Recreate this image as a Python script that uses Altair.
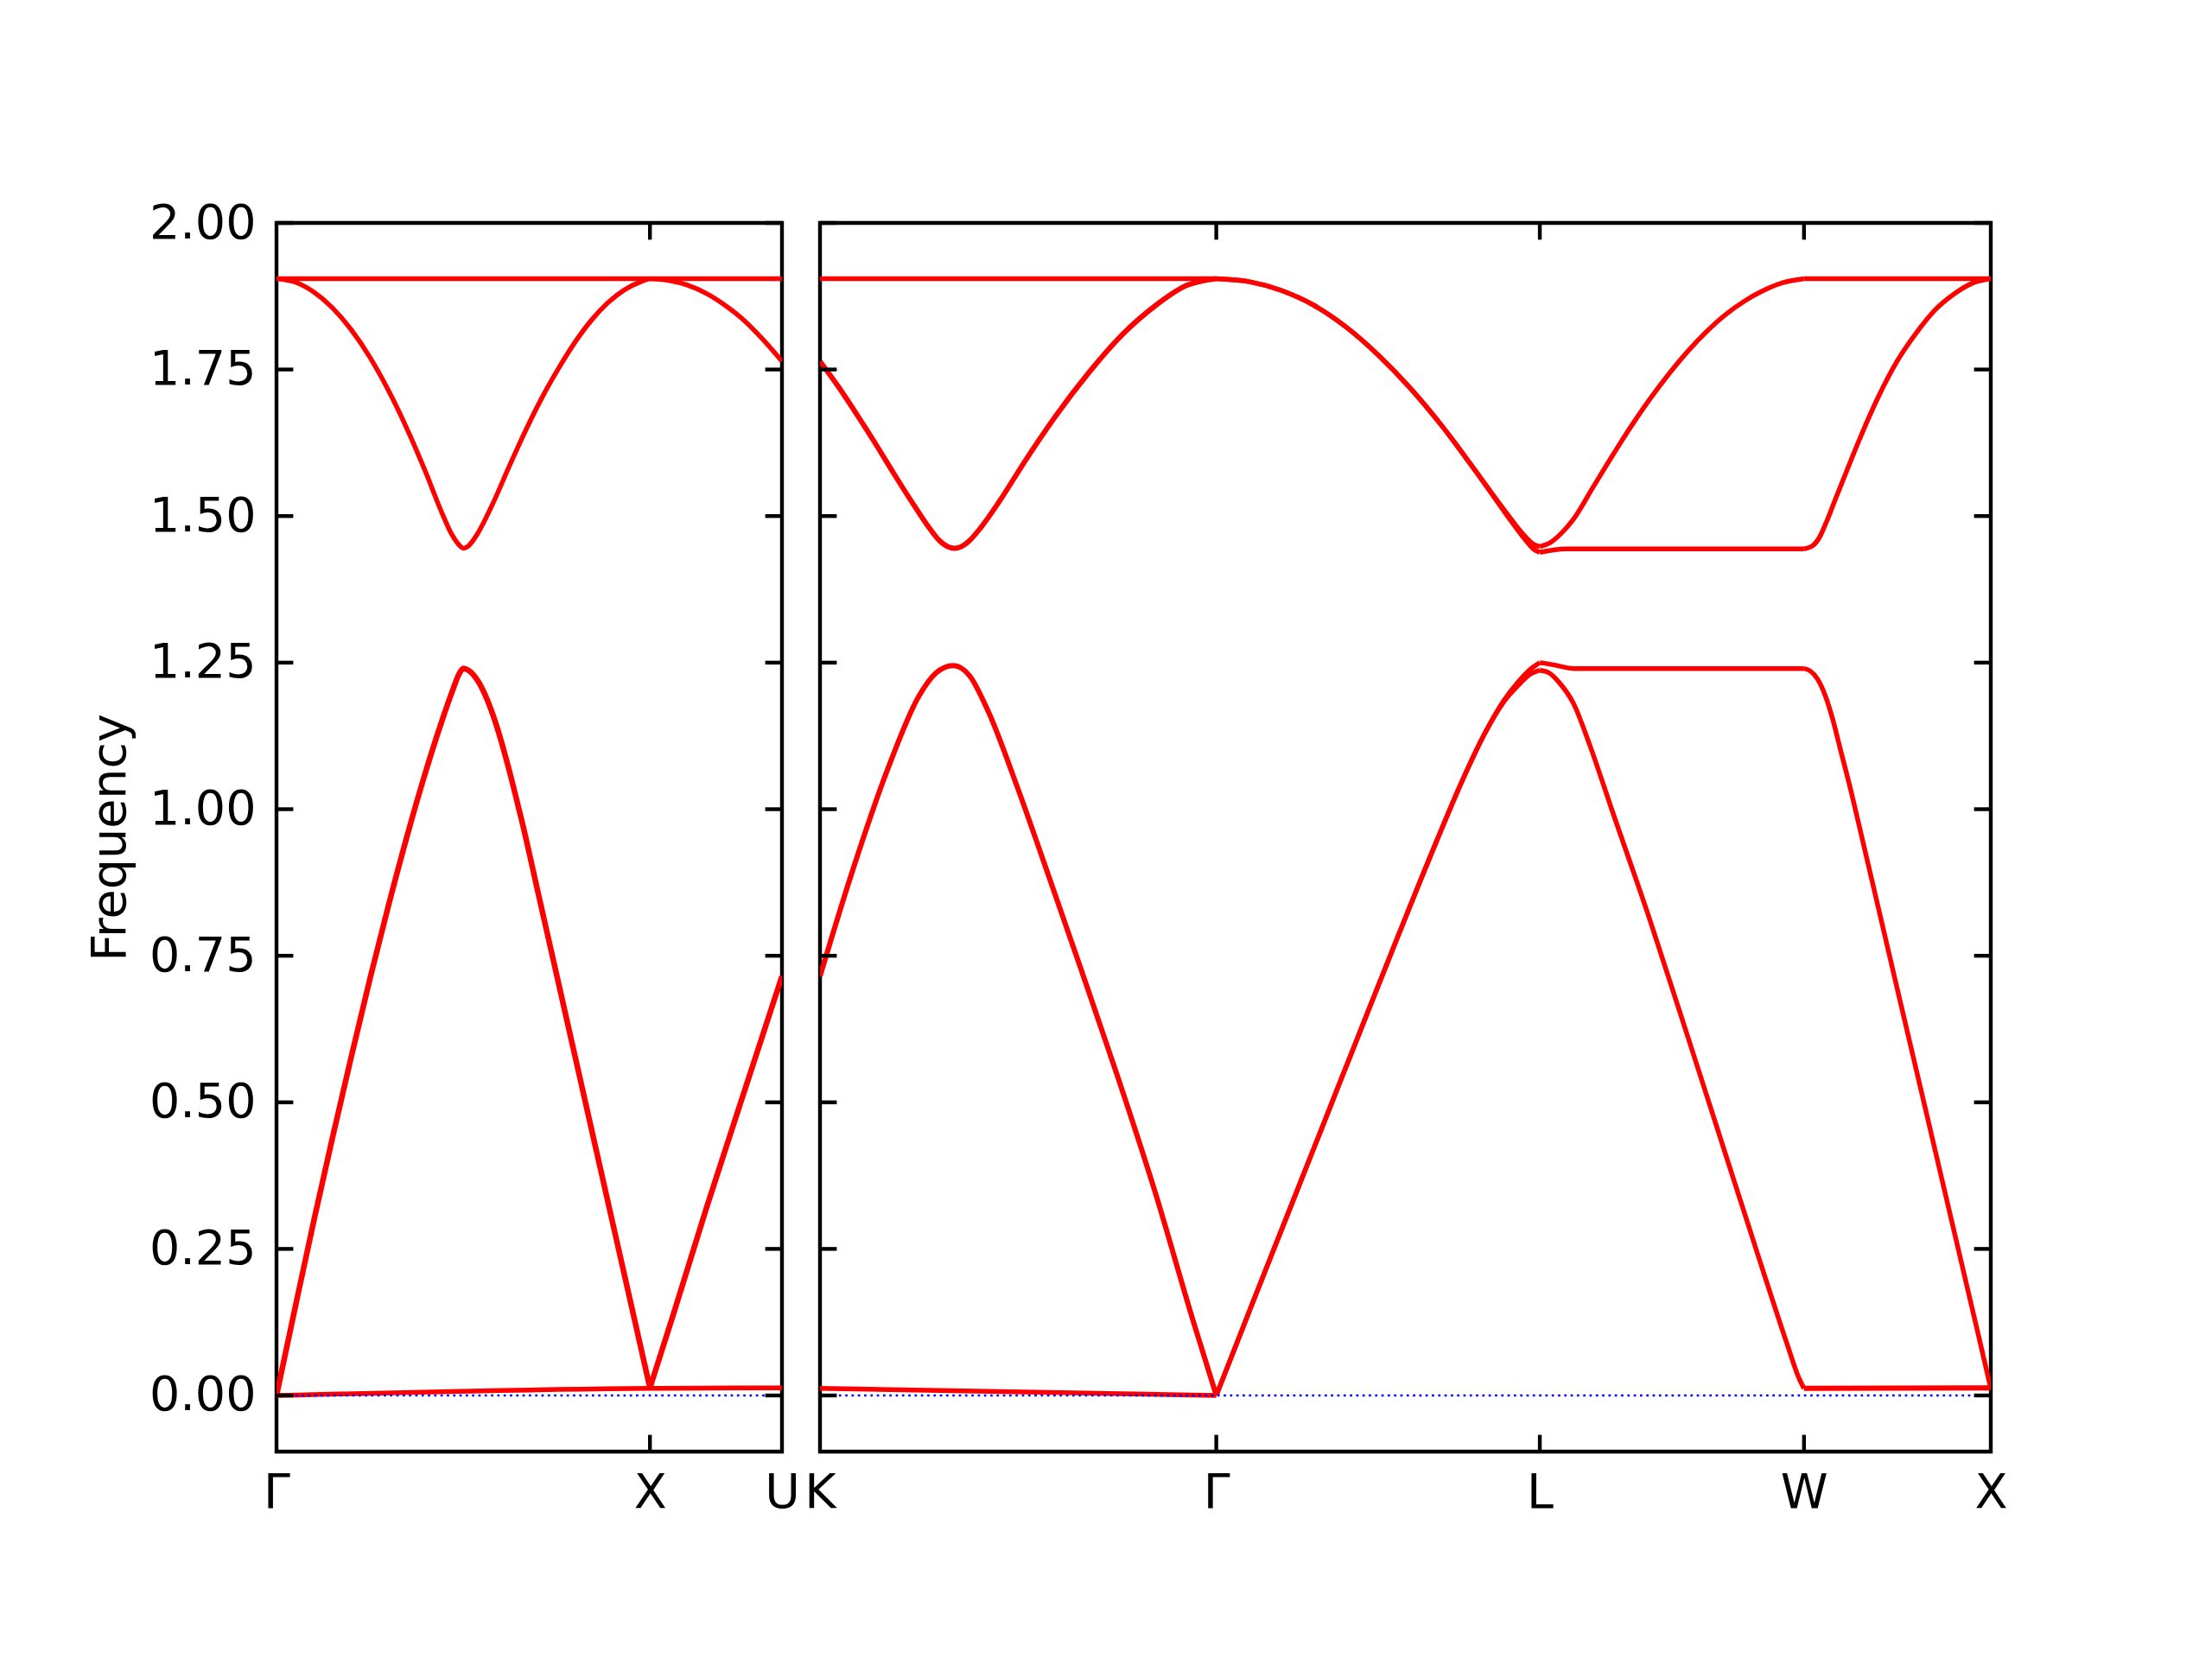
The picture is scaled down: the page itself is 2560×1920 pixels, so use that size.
import altair as alt
import pandas as pd

# ---------------- axis / tick data ----------------
LEFT_TICKS = [0.0, 1.0, 1.3536]
LEFT_LABELS = ["Γ", "X", "U"]
RIGHT_TICKS = [0.0, 1.0607, 1.9267, 2.6338, 3.1338]
RIGHT_LABELS = ["K", "Γ", "L", "W", "X"]
Y_TICKS = [0.0, 0.25, 0.5, 0.75, 1.0, 1.25, 1.5, 1.75, 2.0]
Y_MIN, Y_MAX = -0.0958, 2.0

# ---------------- left panel (Γ - X - U) ----------------
l_flat_q = [0.0, 1.3536]
l_flat_f = [1.905, 1.905]

l_up_gx_q = [0.0, 0.05, 0.1, 0.15, 0.2, 0.25, 0.3, 0.35, 0.4, 0.44, 0.47, 0.49, 0.5,
             0.51, 0.5326, 0.5769, 0.6213, 0.6657, 0.7101, 0.7545, 0.7988, 0.8432, 0.8876, 0.932, 0.9764, 1.0]
l_up_gx_f = [1.905, 1.899, 1.882, 1.855, 1.818, 1.771, 1.714, 1.648, 1.574, 1.51, 1.468, 1.45, 1.445,
             1.447, 1.464, 1.518, 1.582, 1.644, 1.701, 1.751, 1.796, 1.834, 1.864, 1.886, 1.900, 1.905]
l_up_xu_q = [1.0, 1.05, 1.1, 1.15, 1.2, 1.25, 1.3, 1.3536]
l_up_xu_f = [1.905, 1.902, 1.894, 1.880, 1.860, 1.835, 1.803, 1.764]

l_ac_gx_q = [0.0, 0.05, 0.1, 0.15, 0.2, 0.25, 0.3, 0.35, 0.4, 0.44, 0.47, 0.49, 0.5,
             0.52, 0.54, 0.56, 0.58, 0.6, 0.62, 0.64, 0.66, 0.7, 0.75, 0.8, 0.85, 0.9, 0.95, 1.0]
l_ac_gx_f = [0.0, 0.15, 0.298, 0.44, 0.577, 0.71, 0.836, 0.955, 1.065, 1.145, 1.2, 1.232, 1.24,
             1.234, 1.218, 1.193, 1.16, 1.12, 1.074, 1.024, 0.972, 0.859, 0.718, 0.577, 0.436, 0.295, 0.154, 0.013]
l_ac_xu_q = [1.0, 1.0621, 1.151, 1.2396, 1.3536]
l_ac_xu_f = [0.013, 0.137, 0.319, 0.493, 0.715]

l_low_q = [0.0, 1.0, 1.3536]
l_low_f = [0.0, 0.012, 0.013]

# ---------------- right panel (K - Γ - L - W - X) ----------------
r_flat_kg_q = [0.0, 1.0607]
r_flat_kg_f = [1.905, 1.905]
r_flat_wx_q = [2.6338, 3.1338]
r_flat_wx_f = [1.905, 1.905]

r_up_kg_q = [0.0, 0.05, 0.1, 0.15, 0.2, 0.25, 0.29, 0.32, 0.345, 0.36, 0.375, 0.4, 0.43,
             0.48, 0.55, 0.63, 0.72, 0.81, 0.9, 0.98, 1.0607]
r_up_kg_f = [1.764, 1.72, 1.672, 1.622, 1.57, 1.52, 1.482, 1.458, 1.447, 1.445, 1.447, 1.458, 1.48,
             1.525, 1.595, 1.67, 1.745, 1.81, 1.86, 1.893, 1.905]

r_up_gl_q = [1.0607, 1.1473, 1.2339, 1.3205, 1.4071, 1.4937, 1.5803, 1.6669, 1.7535, 1.8401,
             1.8834, 1.9094, 1.9267]
r_up_gl_f1 = [1.905, 1.900, 1.885, 1.860, 1.823, 1.775, 1.718, 1.652, 1.578, 1.503,
              1.468, 1.452, 1.448]
r_up_gl_f2 = [1.905, 1.900, 1.885, 1.860, 1.823, 1.775, 1.718, 1.652, 1.578, 1.500,
              1.463, 1.444, 1.438]

r_up_lw_q = [1.9267, 1.955, 1.9833, 2.0172, 2.0681, 2.119, 2.1699, 2.2208, 2.2717, 2.3227,
             2.3736, 2.4245, 2.4754, 2.5263, 2.5772, 2.6338]
r_up_lw_f = [1.448, 1.455, 1.470, 1.495, 1.548, 1.601, 1.652, 1.699, 1.742, 1.781,
             1.815, 1.844, 1.867, 1.885, 1.898, 1.905]

r_mid_lw_q = [1.9267, 1.9967, 2.6338]
r_mid_lw_f = [1.438, 1.444, 1.444]
r_mid_wx_q = [2.6338, 2.6538, 2.6738, 2.6938, 2.7138, 2.7488, 2.7838, 2.8303, 2.8838, 2.9338,
              2.9838, 3.0338, 3.0838, 3.1338]
r_mid_wx_f = [1.444, 1.448, 1.462, 1.49, 1.522, 1.578, 1.633, 1.700, 1.765, 1.812,
              1.851, 1.878, 1.897, 1.905]

r_ac_kg_q = [0.0, 0.0815, 0.1834, 0.2649, 0.31, 0.3566, 0.40, 0.4482, 0.5297, 0.5909,
             0.6927, 0.7946, 0.8965, 0.9984, 1.0607]
r_ac_kg_f = [0.715, 0.884, 1.072, 1.193, 1.232, 1.245, 1.228, 1.17, 1.035, 0.925,
             0.738, 0.548, 0.348, 0.128, 0.0]

r_ac_gl_q = [1.0607, 1.15, 1.25, 1.35, 1.45, 1.55, 1.65, 1.72, 1.78, 1.83, 1.87, 1.9, 1.9267]
r_ac_gl_f1 = [0.0, 0.145, 0.306, 0.467, 0.628, 0.788, 0.945, 1.05, 1.13, 1.185, 1.218, 1.238, 1.250]
r_ac_gl_f2 = [0.0, 0.145, 0.306, 0.467, 0.628, 0.788, 0.945, 1.05, 1.13, 1.183, 1.212, 1.23, 1.237]

r_ac_lw_top_q = [1.9267, 1.9661, 2.0171, 2.6338]
r_ac_lw_top_f = [1.250, 1.246, 1.240, 1.240]
r_ac_wx_q = [2.6338, 2.65, 2.67, 2.69, 2.71, 2.73, 2.76, 2.7913, 2.873, 2.9544, 3.0359, 3.097, 3.1338]
r_ac_wx_f = [1.240, 1.236, 1.222, 1.195, 1.155, 1.105, 1.03, 0.945, 0.722, 0.501, 0.279, 0.113, 0.012]

r_ac_lw_q = [1.9267, 1.95, 1.98, 2.0171, 2.06, 2.119, 2.2209, 2.3227, 2.4246, 2.5265,
             2.59, 2.62, 2.6338]
r_ac_lw_f = [1.237, 1.233, 1.215, 1.18, 1.11, 1.0, 0.812, 0.612, 0.41, 0.208,
             0.085, 0.03, 0.012]

r_low_kg_q = [0.0, 1.0607]
r_low_kg_f = [0.012, 0.0]
r_low_wx_q = [2.6338, 3.1338]
r_low_wx_f = [0.012, 0.013]

LEFT_SEGMENTS = [
    ("flat", l_flat_q, l_flat_f, 5.5),
    ("up_gx", l_up_gx_q, l_up_gx_f, 5.5),
    ("up_xu", l_up_xu_q, l_up_xu_f, 5.5),
    ("ac_gx", l_ac_gx_q, l_ac_gx_f, 6.5),
    ("ac_xu", l_ac_xu_q, l_ac_xu_f, 6.5),
    ("low", l_low_q, l_low_f, 5.5),
]
RIGHT_SEGMENTS = [
    ("flat_kg", r_flat_kg_q, r_flat_kg_f, 5.5),
    ("flat_wx", r_flat_wx_q, r_flat_wx_f, 5.5),
    ("up_kg", r_up_kg_q, r_up_kg_f, 6.0),
    ("up_gl1", r_up_gl_q, r_up_gl_f1, 5.5),
    ("up_gl2", r_up_gl_q, r_up_gl_f2, 5.5),
    ("up_lw", r_up_lw_q, r_up_lw_f, 5.5),
    ("mid_lw", r_mid_lw_q, r_mid_lw_f, 5.5),
    ("mid_wx", r_mid_wx_q, r_mid_wx_f, 5.5),
    ("ac_kg", r_ac_kg_q, r_ac_kg_f, 6.0),
    ("ac_gl1", r_ac_gl_q, r_ac_gl_f1, 5.5),
    ("ac_gl2", r_ac_gl_q, r_ac_gl_f2, 5.5),
    ("ac_lw_top", r_ac_lw_top_q, r_ac_lw_top_f, 5.5),
    ("ac_wx", r_ac_wx_q, r_ac_wx_f, 5.5),
    ("ac_lw", r_ac_lw_q, r_ac_lw_f, 5.5),
    ("low_kg", r_low_kg_q, r_low_kg_f, 5.5),
    ("low_wx", r_low_wx_q, r_low_wx_f, 6.0),
]

FONT = "DejaVu Sans"
FS = 55.5
TICK_LEN = 19.4
LW_AX = 4.4
H = 1422
W_LEFT = 585
W_RIGHT = 1355


def seg_frame(segments):
    rows = []
    for name, qs, fs, w in segments:
        for i, (q, f) in enumerate(zip(qs, fs)):
            rows.append({"seg": name, "i": i, "q": q, "f": f, "w": w})
    return pd.DataFrame(rows)


def label_expr(ticks, labels):
    expr = "'" + labels[-1] + "'"
    for v, lab in reversed(list(zip(ticks[:-1], labels[:-1]))):
        expr = f"abs(datum.value - {v}) < 0.001 ? '{lab}' : " + expr
    return expr


def panel(segments, ticks, labels, width, show_y):
    xmax = ticks[-1]
    xscale = alt.Scale(domain=[0, xmax], nice=False, zero=False)
    yscale = alt.Scale(domain=[Y_MIN, Y_MAX], nice=False, zero=False)
    xaxis = alt.Axis(values=ticks, labelExpr=label_expr(ticks, labels), ticks=False, tickSize=0,
                     domain=False, grid=False, labelFont=FONT, labelFontSize=FS,
                     labelColor="black", labelPadding=20, labelFlush=False,
                     labelOverlap=False, labelBound=False, title=None)
    if show_y:
        yaxis = alt.Axis(values=Y_TICKS, format=".2f", ticks=False, tickSize=0, domain=False,
                         grid=False, labelFont=FONT, labelFontSize=FS, labelColor="black",
                         labelPadding=24, labelFlush=False, labelOverlap=False,
                         title="Frequency", titleFont=FONT, titleFontSize=FS,
                         titleFontWeight="normal", titleColor="black", titlePadding=16)
    else:
        yaxis = None

    df = seg_frame(segments)
    lines = alt.Chart(df).mark_line(color="red", interpolate="monotone", clip=True).encode(
        x=alt.X("q:Q", scale=xscale, axis=xaxis),
        y=alt.Y("f:Q", scale=yscale, axis=yaxis),
        detail="seg:N",
        order="i:Q",
        strokeWidth=alt.StrokeWidth("w:Q", scale=None),
    )

    zero = alt.Chart(pd.DataFrame({"q": [0.0, xmax], "f": [0.0, 0.0]})).mark_line(
        color="blue", strokeWidth=2.7, strokeDash=[2.7, 4.6]
    ).encode(x=alt.X("q:Q", scale=xscale), y=alt.Y("f:Q", scale=yscale))

    ydf = pd.DataFrame({"t": Y_TICKS})
    ytick_l = alt.Chart(ydf).mark_rule(color="black", strokeWidth=LW_AX).encode(
        y=alt.Y("t:Q", scale=yscale), x=alt.value(0), x2=alt.value(TICK_LEN))
    ytick_r = alt.Chart(ydf).mark_rule(color="black", strokeWidth=LW_AX).encode(
        y=alt.Y("t:Q", scale=yscale), x=alt.value(width - TICK_LEN), x2=alt.value(width))

    xdf = pd.DataFrame({"t": ticks[1:-1]})
    xtick_b = alt.Chart(xdf).mark_rule(color="black", strokeWidth=LW_AX).encode(
        x=alt.X("t:Q", scale=xscale), y=alt.value(H - TICK_LEN), y2=alt.value(H))
    xtick_t = alt.Chart(xdf).mark_rule(color="black", strokeWidth=LW_AX).encode(
        x=alt.X("t:Q", scale=xscale), y=alt.value(0), y2=alt.value(TICK_LEN))

    return alt.layer(lines, zero, ytick_l, ytick_r, xtick_b, xtick_t).properties(
        width=width, height=H)


left = panel(LEFT_SEGMENTS, LEFT_TICKS, LEFT_LABELS, W_LEFT, True)
right = panel(RIGHT_SEGMENTS, RIGHT_TICKS, RIGHT_LABELS, W_RIGHT, False)

chart = alt.hconcat(left, right, spacing=44, bounds="flush").properties(
    padding={"left": 90, "top": 220, "right": 30, "bottom": 30}
).configure(
    background="white"
).configure_view(
    stroke="black", strokeWidth=LW_AX
)

chart.save("out.html", embed_options={"renderer": "svg", "actions": False})
